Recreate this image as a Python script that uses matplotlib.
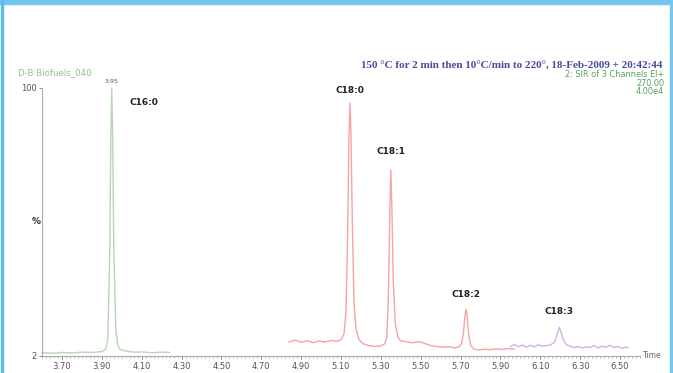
import matplotlib.pyplot as plt
from matplotlib.patches import Rectangle
from matplotlib.ticker import MultipleLocator, NullFormatter

# trace (time in min, intensity in %)
green_t = [3.60, 3.65, 3.70, 3.75, 3.80, 3.85, 3.90, 3.92, 3.93, 3.94, 3.945, 3.95,
           3.955, 3.96, 3.97, 3.98, 3.99, 4.02, 4.06, 4.10, 4.15, 4.20, 4.24]
green_y = [3.2, 3.0, 3.3, 3.1, 3.4, 3.3, 3.6, 4.5, 8, 40, 80, 100,
           80, 42, 12, 6, 4.5, 3.8, 3.4, 3.5, 3.2, 3.4, 3.3]

red_t = [4.84, 4.87, 4.90, 4.93, 4.96, 4.99, 5.02, 5.05, 5.08, 5.10, 5.115, 5.125,
         5.133, 5.140, 5.145, 5.150, 5.157, 5.165, 5.175, 5.19, 5.21, 5.24, 5.27,
         5.30, 5.32, 5.33, 5.338, 5.345, 5.350, 5.355, 5.362, 5.372, 5.385, 5.40,
         5.43, 5.46, 5.49, 5.52, 5.55, 5.58, 5.61, 5.64, 5.67, 5.69, 5.705, 5.715,
         5.722, 5.727, 5.732, 5.740, 5.750, 5.765, 5.79, 5.82, 5.85, 5.88, 5.91,
         5.94, 5.97]
red_y = [7.2, 7.8, 7.0, 7.6, 6.9, 7.5, 7.1, 7.7, 7.3, 8.0, 10, 18,
         45, 82, 94.5, 83, 50, 22, 12, 8, 6.5, 5.8, 5.5,
         5.7, 6.5, 9, 25, 55, 70, 57, 30, 14, 9, 7.5,
         7.2, 6.8, 7.3, 6.6, 5.8, 5.5, 5.2, 5.4, 5.0, 5.3, 6.5, 11,
         17, 19, 17, 10, 6, 4.6, 4.2, 4.5, 4.3, 4.6, 4.4,
         4.7, 4.5]

purple_t = [5.95, 5.97, 5.99, 6.01, 6.03, 6.05, 6.07, 6.09, 6.11, 6.13, 6.15, 6.17,
            6.185, 6.195, 6.205, 6.215, 6.23, 6.25, 6.27, 6.29, 6.31, 6.33, 6.35,
            6.37, 6.39, 6.41, 6.43, 6.45, 6.47, 6.49, 6.51, 6.53, 6.54]
purple_y = [5.5, 6.2, 5.4, 6.0, 5.2, 5.9, 5.3, 6.1, 5.6, 5.8, 6.0, 7.0,
            10, 12.5, 10.5, 8, 6.2, 5.6, 5.0, 5.5, 4.9, 5.4, 5.1,
            5.8, 5.0, 5.6, 5.2, 5.9, 5.1, 5.5, 4.8, 5.3, 5.0]

peak_names = ["C16:0", "C18:0", "C18:1", "C18:2", "C18:3"]
peak_t = [3.95, 5.145, 5.35, 5.727, 6.195]
peak_h = [100, 94.5, 70, 19, 12.5]
label_dx = [0.16, 0.0, 0.0, 0.0, 0.0]
label_dy = [-7, 3, 5, 4, 4]

xticks = [3.70, 3.90, 4.10, 4.30, 4.50, 4.70, 4.90, 5.10, 5.30, 5.50, 5.70, 5.90, 6.10, 6.30, 6.50]

fig = plt.figure(figsize=(6.73, 3.73), dpi=100)
fig.patches.append(Rectangle((0, 0.988), 1, 0.012, transform=fig.transFigure,
                             color="#74c6ee", zorder=0))
fig.patches.append(Rectangle((0.001, 0), 0.003, 1, transform=fig.transFigure,
                             color="#5bbde9", zorder=0))
fig.patches.append(Rectangle((0.995, 0), 0.005, 1, transform=fig.transFigure,
                             color="#74c6ee", zorder=0))

ax = fig.add_axes([0.0624, 0.0456, 0.8886, 0.7185])
ax.plot(green_t, green_y, color="#b9d6b5", lw=1.0, clip_on=False)
ax.plot(red_t, red_y, color="#f4a6a6", lw=1.0, clip_on=False)
ax.plot(purple_t, purple_y, color="#d2b2e2", lw=1.0, clip_on=False)

for name, t, h, dx, dy in zip(peak_names, peak_t, peak_h, label_dx, label_dy):
    ax.text(t + dx, h + dy, name, ha="center", va="bottom", fontsize=6.5,
            fontweight="bold", color="#222222")
ax.text(peak_t[0], peak_h[0] + 1.5, "3.95", ha="center", va="bottom",
        fontsize=4.5, color="#555555")

ax.set_xlim(3.60, 6.60)
ax.set_ylim(2, 100)
ax.set_xticks(xticks)
ax.set_xticklabels(["%.2f" % v for v in xticks])
ax.xaxis.set_minor_locator(MultipleLocator(0.02))
ax.xaxis.set_minor_formatter(NullFormatter())
ax.set_yticks([2, 100])
ax.set_yticklabels(["2", "100"])
ax.tick_params(axis="both", labelsize=6, colors="#777777", labelcolor="#555555",
               length=2.5, width=0.6, pad=1.5)
ax.tick_params(axis="x", which="minor", length=1.5, width=0.5, colors="#999999")
for s in ["top", "right"]:
    ax.spines[s].set_visible(False)
for s in ["left", "bottom"]:
    ax.spines[s].set_color("#aaaaaa")
    ax.spines[s].set_linewidth(0.8)

ax.text(-0.002, 0.5, "%", transform=ax.transAxes, ha="right", va="center",
        fontsize=6.5, fontweight="bold", color="#333333")
ax.text(1.005, 0.0, "Time", transform=ax.transAxes, ha="left", va="center",
        fontsize=5.5, color="#666666")

fig.text(0.985, 0.826, "150 °C for 2 min then 10°C/min to 220°, 18-Feb-2009 + 20:42:44",
         ha="right", va="center", fontsize=8, fontweight="bold",
         family="Liberation Serif", color="#4a4a9e")
fig.text(0.987, 0.799, "2: SIR of 3 Channels EI+", ha="right", va="center",
         fontsize=5.9, color="#5aa05a")
fig.text(0.987, 0.777, "270.00", ha="right", va="center", fontsize=5.9, color="#5aa05a")
fig.text(0.987, 0.756, "4.00e4", ha="right", va="center", fontsize=5.9, color="#5aa05a")
fig.text(0.027, 0.804, "D-B Biofuels_040", ha="left", va="center", fontsize=6.2,
         color="#8cc48c")

fig.savefig("out.png", dpi=100)
